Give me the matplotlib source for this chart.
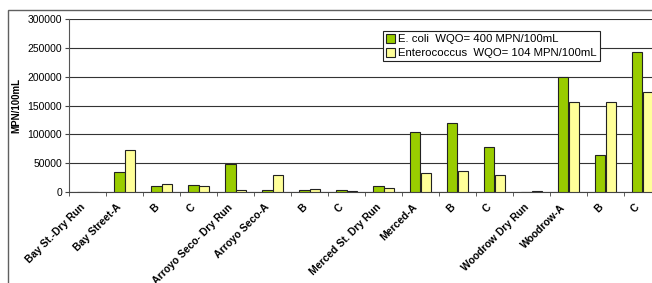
import matplotlib
matplotlib.use("Agg")
import matplotlib.pyplot as plt
from matplotlib.patches import Rectangle
from matplotlib.transforms import ScaledTranslation
import numpy as np

plt.rcParams['font.family'] = ['Liberation Sans', 'DejaVu Sans']

categories = ["Bay St.-Dry Run", "Bay Street-A", "B", "C",
              "Arroyo Seco- Dry Run", "Arroyo Seco-A", "B", "C",
              "Merced St. Dry Run", "Merced-A", "B", "C",
              "Woodrow Dry Run", "Woodrow-A", "B", "C"]
ecoli = [600, 34000, 9800, 11500, 48500, 3500, 2900, 4000,
         9800, 104600, 120200, 77500, 600, 198800, 64700, 242200]
entero = [800, 72300, 13300, 9800, 4000, 28900, 5800, 1200,
          7500, 32400, 36400, 28900, 2300, 155500, 155500, 172800]
yticks = [0, 50000, 100000, 150000, 200000, 250000, 300000]
legend_labels = ["E. coli  WQO= 400 MPN/100mL", "Enterococcus  WQO= 104 MPN/100mL"]

W, H = 652, 283
fig = plt.figure(figsize=(W / 100, H / 100), dpi=100)
fig.patch.set_facecolor('white')

# outer chart frame
fig.add_artist(Rectangle((8 / W, -0.1), 2.0, 1 - 10 / H + 0.1,
                         transform=fig.transFigure, fill=False,
                         edgecolor='#606060', linewidth=1.0, clip_on=False))

left, right = 69, 661
bottom, top = 192, 19
ax = fig.add_axes([left / W, 1 - bottom / H, (right - left) / W, (bottom - top) / H])

x = np.arange(len(categories))
bw = 0.295
ax.bar(x - bw / 2, ecoli, bw, color='#99CC00', edgecolor='#222222', linewidth=0.8,
       label=legend_labels[0], zorder=3)
ax.bar(x + bw / 2, entero, bw, color='#FFFF99', edgecolor='#222222', linewidth=0.8,
       label=legend_labels[1], zorder=3)

ax.set_xlim(-0.5, len(categories) - 0.5)
ax.set_ylim(0, 300000)
ax.set_yticks(yticks)
ax.set_yticklabels([str(v) for v in yticks], fontsize=7.5)
ax.yaxis.grid(True, color='#333333', linewidth=0.8, zorder=0)
ax.set_axisbelow(True)

ax.set_xticks(x)
ax.set_xticklabels(categories, rotation=45, ha='right', rotation_mode='anchor',
                   fontsize=7.5, fontweight='bold')
ax.tick_params(axis='x', which='major', length=0, pad=8)
offset = ScaledTranslation(-8 / 100, 1 / 100, fig.dpi_scale_trans)
for lab in ax.get_xticklabels():
    lab.set_transform(lab.get_transform() + offset)
ax.set_xticks(np.arange(-0.5, len(categories), 1.0), minor=True)
ax.tick_params(axis='x', which='minor', length=3, direction='out', color='#444444')
ax.tick_params(axis='y', length=3, direction='out', color='#444444', pad=2)

for s in ['top', 'right']:
    ax.spines[s].set_visible(False)
ax.spines['left'].set_color('#555555')
ax.spines['bottom'].set_color('#444444')

ax.set_ylabel('MPN/100mL', fontsize=7, fontweight='bold', labelpad=4)

leg = ax.legend(loc='upper left', bbox_to_anchor=((383 - left) / (right - left), 1 - (31 - top) / (bottom - top)),
                fontsize=8.2, frameon=True, fancybox=False, framealpha=1,
                edgecolor='#222222', borderpad=0.25, labelspacing=0.35,
                handlelength=0.8, handleheight=0.8, handletextpad=0.3, borderaxespad=0)
leg.get_frame().set_linewidth(0.8)

fig.savefig('out.png', dpi=100)
